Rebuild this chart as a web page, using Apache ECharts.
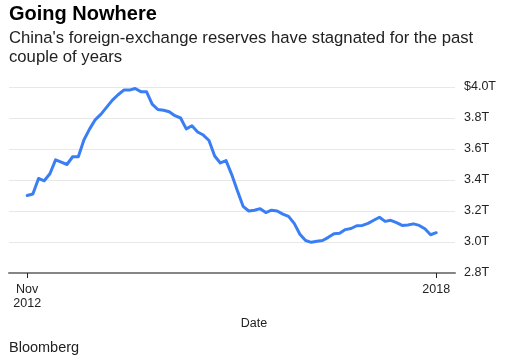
<!DOCTYPE html>
<html>
<head>
<meta charset="utf-8">
<script src="https://cdn.jsdelivr.net/npm/echarts@6/dist/echarts.min.js"></script>
<style>
html,body{margin:0;padding:0;background:#fff;}
#chart{width:507px;height:364px;}
</style>
</head>
<body>
<div id="chart"></div>
<script>
// Monthly China FX reserves, Nov 2012 .. Nov 2018 (trillions USD)
var months = [
  "2012-11","2012-12",
  "2013-01","2013-02","2013-03","2013-04","2013-05","2013-06","2013-07","2013-08","2013-09","2013-10","2013-11","2013-12",
  "2014-01","2014-02","2014-03","2014-04","2014-05","2014-06","2014-07","2014-08","2014-09","2014-10","2014-11","2014-12",
  "2015-01","2015-02","2015-03","2015-04","2015-05","2015-06","2015-07","2015-08","2015-09","2015-10","2015-11","2015-12",
  "2016-01","2016-02","2016-03","2016-04","2016-05","2016-06","2016-07","2016-08","2016-09","2016-10","2016-11","2016-12",
  "2017-01","2017-02","2017-03","2017-04","2017-05","2017-06","2017-07","2017-08","2017-09","2017-10","2017-11","2017-12",
  "2018-01","2018-02","2018-03","2018-04","2018-05","2018-06","2018-07","2018-08","2018-09","2018-10","2018-11"
];
var reserves = [
  3.30, 3.31,
  3.41, 3.395, 3.44, 3.53, 3.515, 3.50, 3.55, 3.55, 3.66, 3.73, 3.79, 3.825,
  3.87, 3.915, 3.95, 3.98, 3.98, 3.99, 3.97, 3.97, 3.89, 3.855, 3.85, 3.84,
  3.815, 3.80, 3.73, 3.75, 3.71, 3.69, 3.655, 3.555, 3.51, 3.525, 3.435, 3.33,
  3.23, 3.20, 3.205, 3.215, 3.19, 3.205, 3.20, 3.18, 3.165, 3.12, 3.05, 3.01,
  2.998, 3.005, 3.01, 3.03, 3.054, 3.057, 3.08, 3.087, 3.105, 3.107, 3.12, 3.14,
  3.16, 3.133, 3.14, 3.125, 3.107, 3.11, 3.117, 3.107, 3.085, 3.047, 3.06
];
var xTickIndex = [0, 72];
var xTickLabels = ["Nov\n2012", "2018"];
var yTicks = [2.8, 3.0, 3.2, 3.4, 3.6, 3.8, 4.0];
var titleText = "Going Nowhere";
var subtitleText = "China's foreign-exchange reserves have stagnated for the past\ncouple of years";
var sourceText = "Bloomberg";
var xAxisName = "Date";

var FONT = "'Liberation Sans', Arial, Helvetica, sans-serif";
var seriesData = reserves.map(function (v, i) { return [i, v]; });

var chart = echarts.init(document.getElementById('chart'), null, {renderer: 'canvas'});
chart.setOption({
  animation: false,
  backgroundColor: '#ffffff',
  textStyle: {fontFamily: FONT},
  title: [
    {text: titleText, left: 9, top: 4, padding: 0,
     textStyle: {fontFamily: FONT, fontSize: 20, fontWeight: 'bold', color: '#000', lineHeight: 20}},
    {text: subtitleText, left: 9, top: 29, padding: 0,
     textStyle: {fontFamily: FONT, fontSize: 16.7, fontWeight: 'normal', color: '#222', lineHeight: 19}},
    {text: sourceText, left: 9, top: 340, padding: 0,
     textStyle: {fontFamily: FONT, fontSize: 14.5, fontWeight: 'normal', color: '#222', lineHeight: 16}}
  ],
  grid: {left: 9, right: 52, top: 87, bottom: 91, containLabel: false},
  xAxis: {
    type: 'value',
    min: -3.2,
    max: 75.3,
    name: xAxisName,
    nameLocation: 'middle',
    nameGap: 44,
    nameTextStyle: {fontFamily: FONT, fontSize: 12.5, color: '#222', padding: [0, 0, 0, 44]},
    axisLine: {show: true, onZero: false, lineStyle: {color: '#858585', width: 2}},
    axisTick: {show: true, length: 5, customValues: xTickIndex, lineStyle: {color: '#222', width: 1}},
    axisLabel: {
      show: true, margin: 10, customValues: xTickIndex,
      fontFamily: FONT, fontSize: 12.5, color: '#222', lineHeight: 14,
      formatter: function (v) {
        var k = xTickIndex.indexOf(Math.round(v));
        return k >= 0 ? xTickLabels[k] : '';
      }
    },
    splitLine: {show: false}
  },
  yAxis: {
    type: 'value',
    position: 'right',
    min: 2.8,
    max: 4.0,
    interval: 0.2,
    axisLine: {show: false},
    axisTick: {show: false},
    axisLabel: {
      margin: 9, fontFamily: FONT, fontSize: 12.5, color: '#222',
      formatter: function (v) {
        var s = v.toFixed(1) + 'T';
        return Math.abs(v - yTicks[yTicks.length - 1]) < 1e-6 ? '$' + s : s;
      }
    },
    splitLine: {show: true, lineStyle: {color: '#e8e8e8', width: 1}}
  },
  series: [{
    type: 'line',
    data: seriesData,
    showSymbol: false,
    symbol: 'none',
    lineStyle: {color: '#3a7ef5', width: 3, join: 'round', cap: 'round'},
    itemStyle: {color: '#3a7ef5'},
    z: 5
  }]
});
</script>
</body>
</html>
